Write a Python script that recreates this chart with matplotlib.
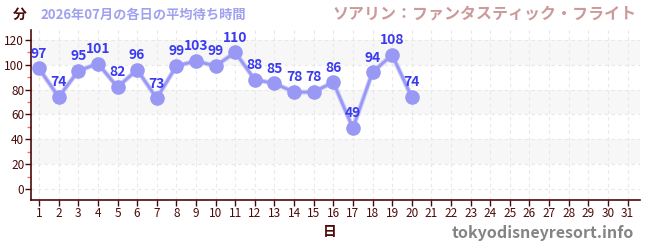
import matplotlib
matplotlib.use("Agg")
import matplotlib.pyplot as plt
from matplotlib.ticker import MultipleLocator

plt.rcParams['font.family'] = ['Noto Sans CJK JP', 'DejaVu Sans']

days = list(range(1, 21))
waits = [97, 74, 95, 101, 82, 96, 73, 99, 103, 99, 110, 88, 85, 78, 78, 86, 49, 94, 108, 74]
xticks = list(range(1, 32))
yticks = [0, 20, 40, 60, 80, 100, 120]

title_left = "2026年07月の各日の平均待ち時間"
title_right = "ソアリン：ファンタスティック・フライト"
ylabel = "分"
xlabel = "日"
watermark = "tokyodisneyresort.info"

axis_col = "#4a0a0a"
line_col = "#9999f5"
label_col = "#3a3af0"

fig = plt.figure(figsize=(6.5, 2.5), dpi=100)
ax = fig.add_axes([0.048, 0.2, 0.937, 0.68])

ax.set_xlim(0.6, 31.65)
ax.set_ylim(-8.9, 128)

for lo in (20, 60, 100):
    ax.axhspan(lo, lo + 20, color="#f7f7f7", zorder=0, lw=0)

ax.grid(True, which="major", color="#e8e8e8", linestyle=(0, (3, 3)), lw=0.8, zorder=0.5)

ax.plot(days, waits, color="#cfcffa", lw=3.5, zorder=2, solid_capstyle="round")
ax.plot(days, waits, color=line_col, lw=2.0, marker="o", ms=9.5, zorder=3)

for d, w in zip(days, waits):
    ax.annotate(str(w), (d, w), xytext=(0, 5.5), textcoords="offset points",
                ha="center", va="bottom", color=label_col, fontsize=10,
                fontweight="bold", zorder=4)

ax.set_xticks(xticks)
ax.set_xticklabels([str(x) for x in xticks])
ax.set_yticks(yticks)
ax.yaxis.set_minor_locator(MultipleLocator(10))
ax.tick_params(axis="both", which="major", colors=axis_col, labelsize=8.5, length=4, width=1)
ax.tick_params(axis="y", which="minor", colors="#f07070", length=3, width=1)
ax.tick_params(axis="x", pad=1)
ax.tick_params(axis="y", pad=1)

for s in ("top", "right"):
    ax.spines[s].set_visible(False)
for s in ("left", "bottom"):
    ax.spines[s].set_color(axis_col)
    ax.spines[s].set_linewidth(1.2)

fig.text(20 / 650, 1 - 15 / 250, ylabel, ha="center", va="center", color=axis_col,
         fontsize=10, fontweight="bold")
fig.text(40 / 650, 1 - 15 / 250, title_left, ha="left", va="center", color="#a0a0f0",
         fontsize=9.5, fontweight="bold")
fig.text(637 / 650, 1 - 14 / 250, title_right, ha="right", va="center", color="#cc9a9a",
         fontsize=11.5, fontweight="bold")
fig.text(330 / 650, 1 - 232 / 250, xlabel, ha="center", va="center", color=axis_col,
         fontsize=10, fontweight="bold")
fig.text(634 / 650, 1 - 233 / 250, watermark, ha="right", va="center", color="#848484",
         fontsize=11.5, fontweight="bold")

fig.savefig("out.png", dpi=100)
